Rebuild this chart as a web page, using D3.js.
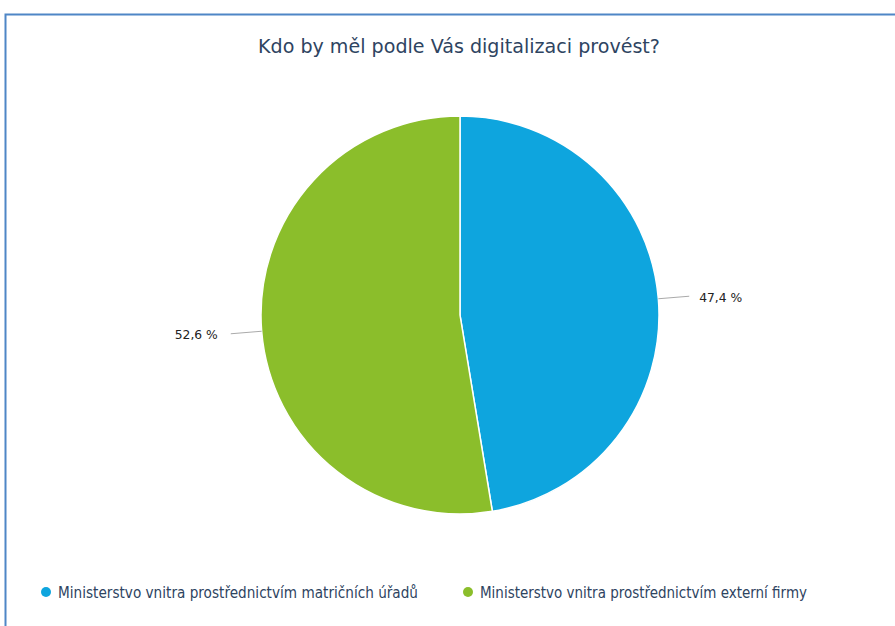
<!DOCTYPE html>
<html>
<head>
<meta charset="utf-8">
<script src="https://cdn.jsdelivr.net/npm/d3@7"></script>
<style>
  body { margin: 0; background: #fff; }
  text { font-family: "DejaVu Sans", sans-serif; }
</style>
</head>
<body>
<svg id="chart"></svg>
<script>
// data
const categories = [
    'Ministerstvo vnitra prostřednictvím matričních úřadů',
    'Ministerstvo vnitra prostřednictvím externí firmy'
];
const values = [47.4, 52.6];
const colors = ['#0ea5de', '#8bbe2b'];
const title = 'Kdo by měl podle Vás digitalizaci provést?';

const width = 895, height = 626;
const svg = d3.select('#chart')
    .attr('width', width)
    .attr('height', height);

// squeeze text to a target width (the original uses a condensed face)
const fit = (sel, w) => sel.attr('textLength', w).attr('lengthAdjust', 'spacingAndGlyphs');

// frame
svg.append('path')
    .attr('d', `M5.5,${height} V14.5 H${width}`)
    .attr('fill', 'none')
    .attr('stroke', '#4f86c6')
    .attr('stroke-width', 2);

svg.append('text')
    .attr('x', 258)
    .attr('y', 53)
    .attr('font-size', 20)
    .attr('fill', '#2e4461')
    .text(title)
    .call(fit, 402);

const cx = 460, cy = 315, r = 199;
const data = categories.map((c, i) => ({name: c, value: values[i], color: colors[i]}));

const pie = d3.pie().sort(null).value(d => d.value);
const arc = d3.arc().innerRadius(0).outerRadius(r);
const arcs = pie(data);

const g = svg.append('g').attr('transform', `translate(${cx},${cy})`);

g.selectAll('.slice')
    .data(arcs)
    .join('path')
    .attr('class', 'slice')
    .attr('d', arc)
    .attr('fill', d => d.data.color)
    .attr('stroke', '#fff')
    .attr('stroke-width', 1.5);

// labels with leader lines
const fmt = v => d3.format('.1f')(v).replace('.', ',') + ' %';
arcs.forEach(d => {
    const a = (d.startAngle + d.endAngle) / 2;
    const ux = Math.sin(a), uy = -Math.cos(a);
    const x0 = ux * r, y0 = uy * r;
    const x1 = ux * (r + 31), y1 = uy * (r + 31);
    const side = ux >= 0 ? 1 : -1;
    g.append('line')
        .attr('x1', x0).attr('y1', y0)
        .attr('x2', x1).attr('y2', y1)
        .attr('stroke', '#aaa')
        .attr('stroke-width', 1);
    g.append('text')
        .attr('x', x1 + side * (side > 0 ? 10 : 13))
        .attr('y', y1 + 5.5)
        .attr('text-anchor', side > 0 ? 'start' : 'end')
        .attr('font-size', 13)
        .attr('fill', '#222')
        .text(fmt(d.data.value))
        .call(fit, 43);
});

// legend
const legendX = [46, 468];
const legendW = [360, 327];
const legend = svg.selectAll('.legend')
    .data(data)
    .join('g')
    .attr('class', 'legend')
    .attr('transform', (d, i) => `translate(${legendX[i]},592)`);
legend.append('circle')
    .attr('r', 5)
    .attr('fill', d => d.color);
legend.append('text')
    .attr('x', 12)
    .attr('y', 5.5)
    .attr('font-size', 15)
    .attr('fill', '#2e4461')
    .text(d => d.name)
    .each(function (d, i) { fit(d3.select(this), legendW[i]); });
</script>
</body>
</html>
